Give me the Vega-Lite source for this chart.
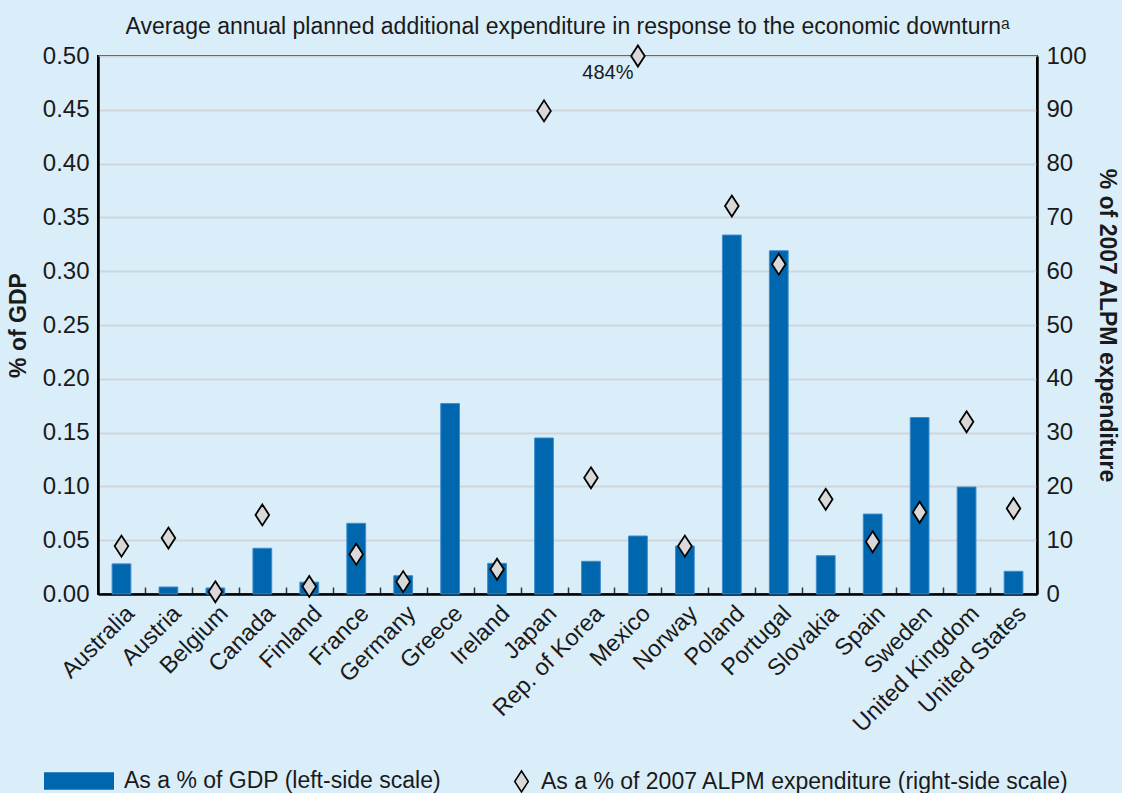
{
  "$schema": "https://vega.github.io/schema/vega-lite/v6.json",
  "autosize": {"type": "none"},
  "width": 939,
  "height": 538,
  "padding": {"left": 98, "top": 56, "right": 85, "bottom": 199},
  "background": "#daeef9",
  "config": {
    "font": "Liberation Sans",
    "view": {"stroke": "black", "strokeWidth": 2},
    "axis": {"labelFont": "Liberation Sans", "titleFont": "Liberation Sans", "labelColor": "#1a1a1a", "titleColor": "#1a1a1a"},
    "legend": {"labelFont": "Liberation Sans", "labelFontSize": 23, "labelColor": "#1a1a1a", "labelLimit": 600}
  },
  "title": {
    "text": "Average annual planned additional expenditure in response to the economic downturnᵃ",
    "fontSize": 23,
    "fontWeight": "normal",
    "color": "#1a1a1a",
    "font": "Liberation Sans",
    "anchor": "middle",
    "offset": 3
  },
  "data": {
    "values": [
      {"country": "Australia", "gdp": 0.028, "alpm": 8.9, "note": ""},
      {"country": "Austria", "gdp": 0.0065, "alpm": 10.4, "note": ""},
      {"country": "Belgium", "gdp": 0.0056, "alpm": 0.4, "note": ""},
      {"country": "Canada", "gdp": 0.0425, "alpm": 14.7, "note": ""},
      {"country": "Finland", "gdp": 0.011, "alpm": 1.4, "note": ""},
      {"country": "France", "gdp": 0.0657, "alpm": 7.4, "note": ""},
      {"country": "Germany", "gdp": 0.017, "alpm": 2.3, "note": ""},
      {"country": "Greece", "gdp": 0.177, "alpm": null, "note": ""},
      {"country": "Ireland", "gdp": 0.0285, "alpm": 4.6, "note": ""},
      {"country": "Japan", "gdp": 0.145, "alpm": 89.8, "note": ""},
      {"country": "Rep. of Korea", "gdp": 0.0304, "alpm": 21.6, "note": ""},
      {"country": "Mexico", "gdp": 0.0539, "alpm": 484, "note": "484%"},
      {"country": "Norway", "gdp": 0.0446, "alpm": 8.9, "note": ""},
      {"country": "Poland", "gdp": 0.3336, "alpm": 72.1, "note": ""},
      {"country": "Portugal", "gdp": 0.319, "alpm": 61.3, "note": ""},
      {"country": "Slovakia", "gdp": 0.0356, "alpm": 17.6, "note": ""},
      {"country": "Spain", "gdp": 0.0743, "alpm": 9.7, "note": ""},
      {"country": "Sweden", "gdp": 0.164, "alpm": 15.2, "note": ""},
      {"country": "United Kingdom", "gdp": 0.0994, "alpm": 32.0, "note": ""},
      {"country": "United States", "gdp": 0.0211, "alpm": 15.9, "note": ""}
    ]
  },
  "encoding": {
    "x": {
      "field": "country",
      "type": "nominal",
      "sort": null,
      "scale": {"paddingInner": 0, "paddingOuter": 0},
      "axis": {
        "title": null,
        "labelAngle": -45,
        "labelFontSize": 23.5,
        "labelPadding": 14,
        "tickBand": "extent",
        "tickSize": -7,
        "tickWidth": 1.5,
        "tickColor": "#333333",
        "domainColor": "black",
        "domainWidth": 2.5,
        "labelLimit": 300
      }
    }
  },
  "layer": [
    {
      "mark": {"type": "bar", "width": {"band": 0.4}, "stroke": "#3f8ccc", "strokeWidth": 1},
      "encoding": {
        "y": {
          "field": "gdp",
          "type": "quantitative",
          "scale": {"domain": [0, 0.5], "nice": false},
          "axis": {
            "title": "% of GDP",
            "titleFontSize": 23,
            "titleFontWeight": "bold",
            "titlePadding": 12,
            "values": [0, 0.05, 0.1, 0.15, 0.2, 0.25, 0.3, 0.35, 0.4, 0.45, 0.5],
            "format": ".2f",
            "labelFontSize": 24,
            "labelPadding": 9,
            "tickSize": 0,
            "grid": true,
            "gridColor": "#cfd5d9",
            "gridWidth": 2,
            "domainColor": "black",
            "domainWidth": 2.5
          }
        },
        "color": {
          "datum": "As a % of GDP (left-side scale)",
          "scale": {"range": ["#0066ae"]},
          "legend": {
            "title": null,
            "orient": "none",
            "legendX": -54,
            "legendY": 690,
            "symbolType": "M-1,-0.25H1V0.25H-1Z",
            "symbolSize": 4900,
            "symbolStrokeWidth": 0,
            "labelOffset": 10
          }
        }
      }
    },
    {
      "mark": {"type": "point", "filled": true, "fill": "#d9d9d9", "stroke": "black", "strokeWidth": 1.8, "opacity": 1, "size": 441, "shape": "M0,-1L0.65,0L0,1L-0.65,0Z"},
      "encoding": {
        "y": {
          "field": "alpm",
          "type": "quantitative",
          "scale": {"domain": [0, 100], "nice": false, "clamp": true},
          "axis": {
            "orient": "right",
            "title": "% of 2007 ALPM expenditure",
            "titleFontSize": 23,
            "titleFontWeight": "bold",
            "titlePadding": 8,
            "values": [0, 10, 20, 30, 40, 50, 60, 70, 80, 90, 100],
            "format": "d",
            "labelFontSize": 24,
            "labelPadding": 9,
            "tickSize": 0,
            "grid": false,
            "domainColor": "black",
            "domainWidth": 2.5
          }
        },
        "shape": {
          "datum": "As a % of 2007 ALPM expenditure (right-side scale)",
          "scale": {"range": ["M0,-1L0.65,0L0,1L-0.65,0Z"]},
          "legend": {
            "title": null,
            "orient": "none",
            "legendX": 412,
            "legendY": 714,
            "symbolSize": 441,
            "labelOffset": 8,
            "encode": {
              "symbols": {
                "update": {
                  "fill": {"value": "#d9d9d9"},
                  "stroke": {"value": "black"},
                  "strokeWidth": {"value": 1.8},
                  "opacity": {"value": 1}
                }
              }
            }
          }
        }
      }
    },
    {
      "transform": [{"filter": "datum.note != ''"}],
      "mark": {"type": "text", "fontSize": 20, "color": "#1a1a1a", "dx": -30, "dy": 17, "font": "Liberation Sans"},
      "encoding": {
        "y": {"field": "alpm", "type": "quantitative", "scale": {"domain": [0, 100], "nice": false, "clamp": true}, "axis": null},
        "text": {"field": "note"}
      }
    }
  ],
  "resolve": {"scale": {"y": "independent"}}
}
